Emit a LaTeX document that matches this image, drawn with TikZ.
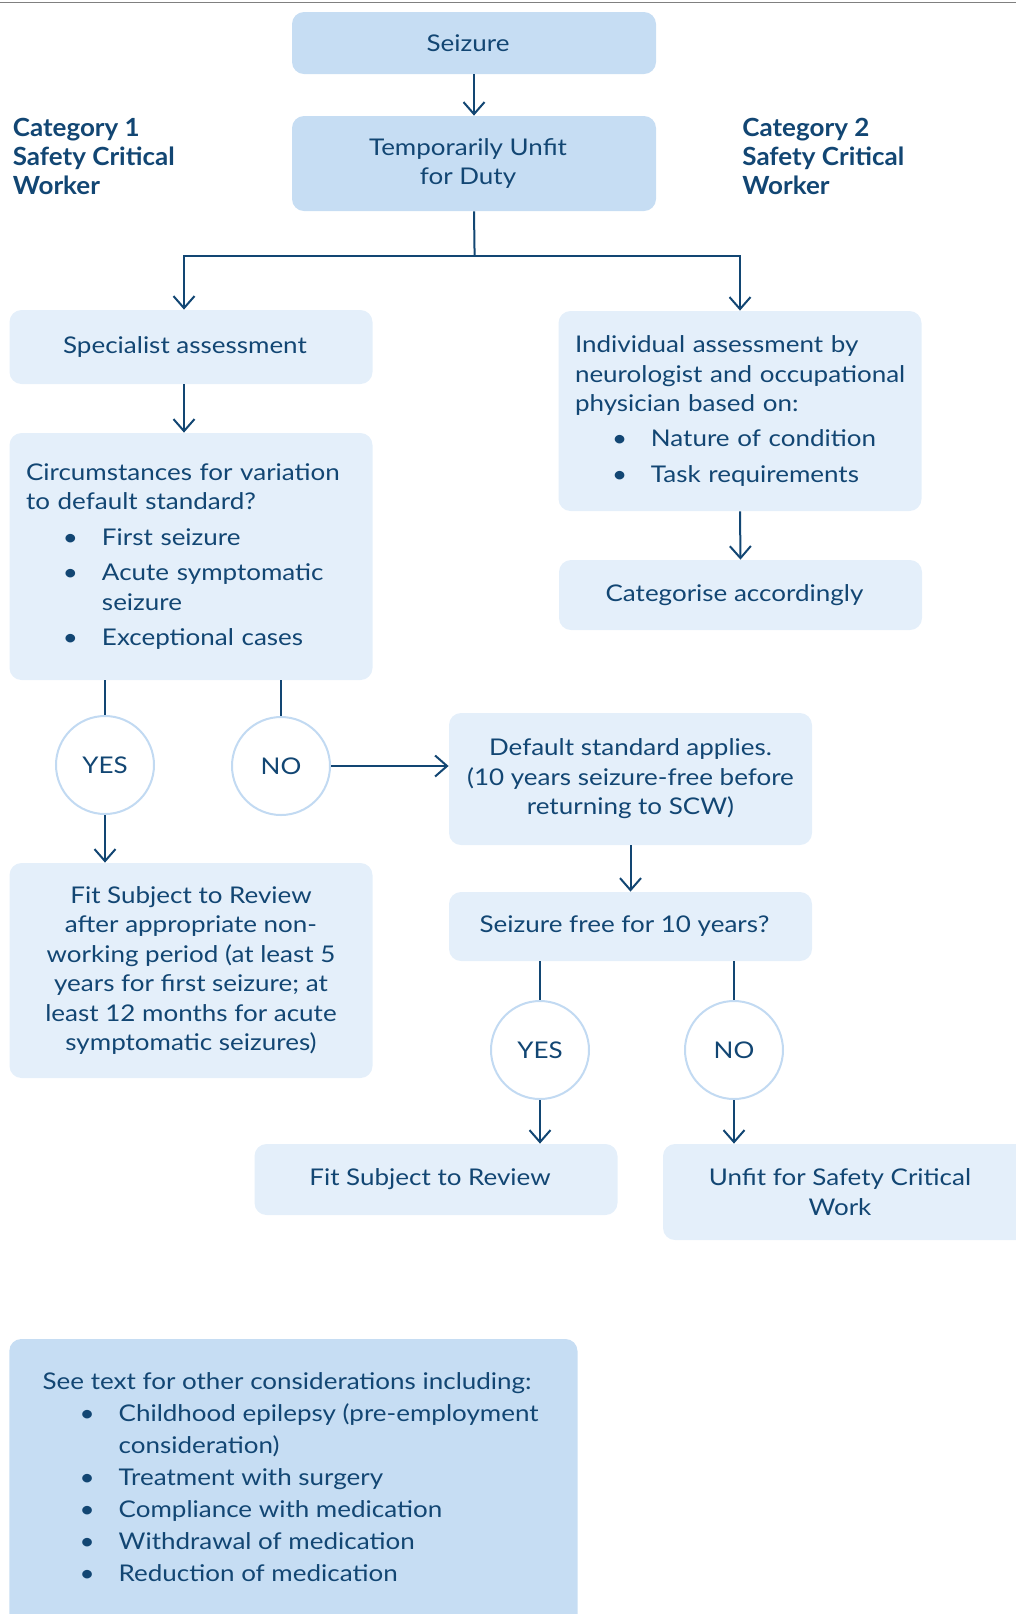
\documentclass[tikz,border=0pt]{standalone}
\usepackage{fontspec}
\setmainfont{Lato}[FakeStretch=1.13]
\newfontfamily\catfont{Lato}[FakeStretch=1.04]
\usepackage{xcolor}
\usetikzlibrary{arrows.meta}
\definecolor{ink}{HTML}{124673}
\definecolor{boxdark}{HTML}{C6DDF3}
\definecolor{boxlight}{HTML}{E4EFFA}
\definecolor{ringblue}{HTML}{C2DAF2}
\newcommand{\bitem}{\hspace*{18.5pt}\makebox[19.5pt][l]{\textbullet}}
\newcommand{\bcont}{\hspace*{38pt}}
\newcommand{\lft}{\hspace*{6pt}}

\begin{document}
\begin{tikzpicture}[x=0.5pt,y=-0.5pt,
every node/.style={text=ink, font=\fontsize{11.5}{14.7}\selectfont},
darkbox/.style={fill=boxdark, rounded corners=6pt, align=center, minimum width=182pt, inner sep=0pt},
lightbox/.style={fill=boxlight, rounded corners=6pt, align=center, minimum width=181.5pt, inner sep=0pt},
listbox/.style={lightbox, align=left, text width=165pt, inner xsep=8.25pt},
answer/.style={circle, draw=ringblue, line width=1pt, fill=white, minimum size=49pt, inner sep=0pt},
catlabel/.style={align=left, anchor=west, inner sep=0pt, font=\catfont\bfseries\fontsize{12.5}{14.5}\selectfont},
arr/.style={draw=ink, line width=1pt, -{Straight Barb[length=6pt,width=10.5pt]}},
ln/.style={draw=ink, line width=1pt}]
\useasboundingbox (0,0) rectangle (1016,1614);
\draw[gray, line width=0.75pt] (0,2.7) -- (1016,2.7);

\node[darkbox, minimum height=31pt] (seizure) at (474,43) {Seizure\lft};
\node[darkbox, minimum height=47.5pt] (unfitduty) at (474,163.5) {Temporarily Unfit\lft\\for Duty\lft};
\node[catlabel] (cat1) at (12.4,156.5) {Category 1\\Safety Critical\\Worker};
\node[catlabel] (cat2) at (742,156.5) {Category 2\\Safety Critical\\Worker};
\node[lightbox, minimum height=37pt] (specialist) at (191,347) {Specialist assessment\lft};
\node[listbox, minimum height=100pt] (individual) at (740,411) {Individual assessment by\\\mbox{neurologist and occupational}\\physician based on:\\[3pt]\bitem Nature of condition\\[3pt]\bitem Task requirements};
\node[listbox, minimum height=123.5pt] (circumstances) at (191,556.5) {Circumstances for variation\\to default standard?\\[3pt]\bitem First seizure\\[3pt]\bitem Acute symptomatic\\\bcont seizure\\[3pt]\bitem Exceptional cases};
\node[lightbox, minimum height=35pt] (categorise) at (740.5,595) {Categorise accordingly\lft};
\node[answer] (yes1) at (105,765) {YES};
\node[answer] (no1) at (281,766) {NO};
\node[lightbox, minimum height=66pt] (default) at (630.5,779) {Default standard applies.\\(10 years seizure-free before\\returning to SCW)};
\node[lightbox, minimum height=107.5pt] (fitreview) at (191,970.5) {Fit Subject to Review\\after appropriate non-\\working period (at least 5\\years for first seizure; at\\least 12 months for acute\\symptomatic seizures)};
\node[lightbox, minimum height=34.5pt] (seizurefree) at (630.5,926.5) {Seizure free for 10 years?\lft};
\node[answer] (yes2) at (540,1050) {YES};
\node[answer] (no2) at (734,1050) {NO};
\node[lightbox, minimum height=35.5pt] (fitsubject) at (436,1179.5) {Fit Subject to Review\lft};
\node[lightbox, minimum height=48pt, minimum width=183pt] (unfitwork) at (846,1192) {Unfit for Safety Critical\lft\\Work\lft};
\fill[boxdark, rounded corners=6pt] (9.3,1339) rectangle (577.5,1680);
\node[align=left, anchor=north west, inner xsep=16.5pt, inner ysep=16.5pt, font=\fontsize{11.5}{16}\selectfont] (considerations) at (9.3,1339) {See text for other considerations including:\\\bitem Childhood epilepsy (pre-employment\\\bcont consideration)\\\bitem Treatment with surgery\\\bitem Compliance with medication\\\bitem Withdrawal of medication\\\bitem Reduction of medication};

\coordinate (split) at (474.6,256);
\draw[arr] (seizure) -- (unfitduty);
\draw[ln] (unfitduty.south) -- (split);
\draw[arr] (split) -| ([xshift=-3.5pt]specialist.north);
\draw[arr] (split) -| (individual);
\draw[arr] ([xshift=-3.5pt]specialist.south) -- ([xshift=-3.5pt]circumstances.north);
\draw[arr] (individual.south) -- (categorise.north);
\draw[ln] (yes1 |- circumstances.south) -- (yes1);
\draw[ln] (no1 |- circumstances.south) -- (no1);
\draw[arr] (yes1) -- (yes1 |- fitreview.north);
\draw[arr] (no1) -- (no1 -| default.west);
\draw[arr] (default) -- (seizurefree);
\draw[ln] (yes2 |- seizurefree.south) -- (yes2);
\draw[ln] (no2 |- seizurefree.south) -- (no2);
\draw[arr] (yes2) -- (yes2 |- fitsubject.north);
\draw[arr] (no2) -- (no2 |- unfitwork.north);
\end{tikzpicture}
\end{document}
